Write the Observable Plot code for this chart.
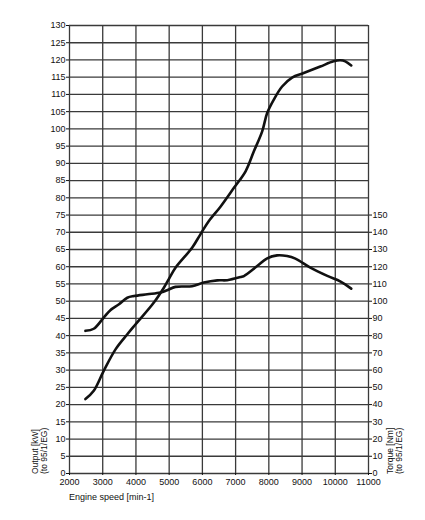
<!DOCTYPE html>
<html>
<head>
<meta charset="utf-8">
<script src="https://cdn.jsdelivr.net/npm/d3@7"></script>
<script src="https://cdn.jsdelivr.net/npm/@observablehq/plot@0.6"></script>
<style>
  html, body { margin: 0; padding: 0; background: #fff; }
  #chart svg { display: block; font-family: "Liberation Sans", Arial, sans-serif; }
</style>
</head>
<body>
<div id="chart"></div>
<script>
// Engine speed ticks [min-1]
const rpmTicks = [2000, 3000, 4000, 5000, 6000, 7000, 8000, 9000, 10000, 11000];
// Output ticks [kW]
const outputTicks = d3.range(0, 131, 5);
// Torque ticks [Nm]
const torqueTicks = [0, 10, 20, 30, 40, 50, 60, 70, 80, 90, 100, 110, 120, 130, 140, 150];

// Output curve (kW)
const outputRpm = [2480, 2730, 3030, 3390, 3740, 3990, 4540, 4840, 4990, 5190, 5690, 5940, 6190, 6550, 6950, 7300, 7550, 7800, 7950, 8150, 8400, 8700, 9050, 9550, 9950, 10150, 10300, 10480];
const outputKw  = [21.6, 24.0, 29.8, 36.1, 40.4, 43.3, 49.6, 53.9, 56.4, 59.7, 65.5, 69.4, 73.2, 77.5, 82.9, 87.7, 93.5, 99.3, 104.6, 108.5, 112.3, 114.9, 116.2, 118.1, 119.6, 119.9, 119.6, 118.4];

// Torque curve (Nm)
const torqueRpm = [2480, 2730, 3030, 3230, 3490, 3740, 3940, 4340, 4740, 4940, 5190, 5690, 6040, 6450, 6750, 7150, 7250, 7650, 7950, 8250, 8550, 8800, 9250, 9760, 10160, 10480];
const torqueNm  = [82.8, 84.0, 90.5, 94.8, 98.2, 102.0, 103.0, 104.0, 105.0, 106.4, 108.3, 108.7, 110.8, 112.1, 112.2, 114.0, 114.6, 120.4, 124.9, 126.6, 126.2, 124.7, 119.5, 114.7, 111.4, 107.3];

const outputData = outputRpm.map((r, i) => ({rpm: r, value: outputKw[i]}));
const torqueData = torqueRpm.map((r, i) => ({rpm: r, value: torqueNm[i]}));

const W = 425, H = 520;
const mL = 69, mR = 57, mT = 25, mB = 47;
const gridStyle = {stroke: "#3a3a3a", strokeOpacity: 1, strokeWidth: 1.3};

const chart = Plot.plot({
  width: W,
  height: H,
  marginLeft: mL,
  marginRight: mR,
  marginTop: mT,
  marginBottom: mB,
  style: {fontSize: "9px", fontFamily: "Liberation Sans, Arial, sans-serif", color: "#111", background: "#fff"},
  x: {domain: [2000, 11000]},
  y: {domain: [0, 130]},
  marks: [
    Plot.gridX(rpmTicks, gridStyle),
    Plot.gridY(outputTicks, gridStyle),
    Plot.axisY(outputTicks, {anchor: "left", tickSize: 3, tickPadding: 1, label: null, fontSize: 9}),
    Plot.axisY(torqueTicks.map(t => t / 2), {anchor: "right", tickSize: 3, tickPadding: 1, label: null, fontSize: 9, tickFormat: d => String(d * 2)}),
    Plot.axisX(rpmTicks, {anchor: "bottom", tickSize: 2, tickPadding: 3, label: null, fontSize: 9, tickFormat: d3.format("d")}),
    Plot.line(outputData, {x: "rpm", y: "value", stroke: "#111", strokeWidth: 2.6, curve: "catmull-rom"}),
    Plot.line(torqueData, {x: "rpm", y: d => d.value / 2, stroke: "#111", strokeWidth: 2.6, curve: "catmull-rom"})
  ]
});

document.getElementById("chart").appendChild(chart);

const svg = d3.select(chart);
const ff = "Liberation Sans, Arial, sans-serif";
// X axis title
svg.append("text").attr("x", mL).attr("y", 500).attr("text-anchor", "start").attr("font-size", 9).attr("font-family", ff).attr("fill", "#111").text("Engine speed [min-1]");
// Left axis title
const yb = H - mB + 1;
const left = svg.append("text").attr("transform", `translate(40,${yb}) rotate(-90)`).attr("text-anchor", "start").attr("font-size", 8.5).attr("font-family", ff).attr("fill", "#111");
left.append("tspan").attr("x", 0).attr("dy", "-0.2em").text("Output [kW]");
left.append("tspan").attr("x", 0).attr("dy", "1.05em").text("(to 95/1/EG)");
// Right axis title
const right = svg.append("text").attr("transform", `translate(395,${yb}) rotate(-90)`).attr("text-anchor", "start").attr("font-size", 8.5).attr("font-family", ff).attr("fill", "#111");
right.append("tspan").attr("x", 0).attr("dy", "-0.2em").text("Torque [Nm]");
right.append("tspan").attr("x", 0).attr("dy", "1.05em").text("(to 95/1/EG)");
</script>
</body>
</html>
